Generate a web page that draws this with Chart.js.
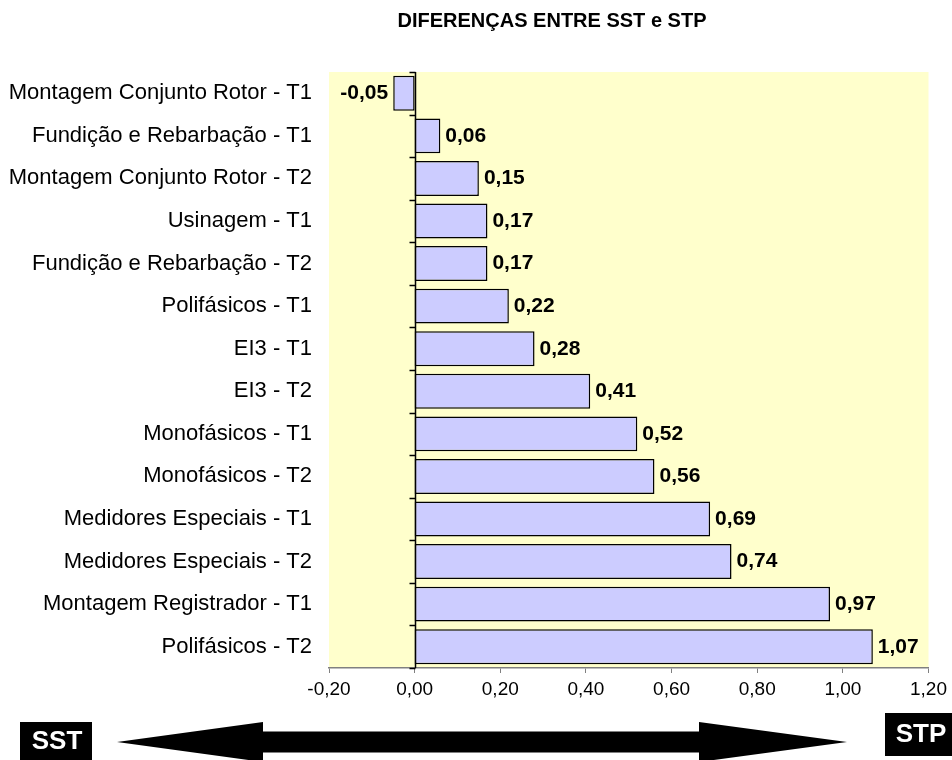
<!DOCTYPE html>
<html>
<head>
<meta charset="utf-8">
<title>Diferenças entre SST e STP</title>
<script src="https://cdn.jsdelivr.net/npm/chart.js@4"></script>
<style>
  html, body { margin: 0; padding: 0; background: #fff; }
  #wrap { width: 952px; height: 760px; }
</style>
</head>
<body>
<div id="wrap"><canvas id="diffChart" width="952" height="760"></canvas></div>
<script>
// Setores / turnos, de cima para baixo
const categories = [
    'Montagem Conjunto Rotor - T1',
    'Fundição e Rebarbação - T1',
    'Montagem Conjunto Rotor - T2',
    'Usinagem - T1',
    'Fundição e Rebarbação - T2',
    'Polifásicos - T1',
    'EI3 - T1',
    'EI3 - T2',
    'Monofásicos - T1',
    'Monofásicos - T2',
    'Medidores Especiais - T1',
    'Medidores Especiais - T2',
    'Montagem Registrador - T1',
    'Polifásicos - T2'
];

// Diferença STP - SST
const differences = [-0.05, 0.06, 0.15, 0.17, 0.17, 0.22, 0.28, 0.41, 0.52, 0.56, 0.69, 0.74, 0.97, 1.07];

// Escala horizontal
const xMin = -0.2;
const xMax = 1.2;
const xStep = 0.2;

const chartTitle = 'DIFERENÇAS ENTRE SST e STP';
const leftTag = 'SST';
const rightTag = 'STP';

const FONT = '"Liberation Sans", Arial, sans-serif';

function fmt(v) {
    if (Math.abs(v) < 1e-9) v = 0;
    return v.toFixed(2).replace('.', ',');
}

// Fundo amarelo da área do gráfico
const plotBackground = {
    id: 'plotBackground',
    beforeDraw(chart) {
        const { ctx, chartArea } = chart;
        ctx.save();
        ctx.fillStyle = '#FFFFCC';
        ctx.fillRect(chartArea.left, chartArea.top, chartArea.right - chartArea.left, chartArea.bottom - chartArea.top);
        ctx.restore();
    }
};

// Eixo vertical no zero com marcas entre categorias
const zeroAxis = {
    id: 'zeroAxis',
    afterDatasetsDraw(chart) {
        const { ctx, chartArea } = chart;
        const x = Math.round(chart.scales.x.getPixelForValue(0)) + 0.5;
        const yScale = chart.scales.y;
        ctx.save();
        ctx.strokeStyle = '#000';
        ctx.lineWidth = 1.5;
        ctx.beginPath();
        ctx.moveTo(x, chartArea.top);
        ctx.lineTo(x, chartArea.bottom);
        for (let i = 0; i <= categories.length; i++) {
            const y = Math.round(yScale.getPixelForValue(i - 0.5)) + 0.5;
            ctx.moveTo(x - 6, y);
            ctx.lineTo(x, y);
        }
        ctx.stroke();
        ctx.restore();
    }
};

// Rótulos com o valor de cada barra
const valueLabels = {
    id: 'valueLabels',
    afterDatasetsDraw(chart) {
        const { ctx } = chart;
        const meta = chart.getDatasetMeta(0);
        ctx.save();
        ctx.font = 'bold 21px ' + FONT;
        ctx.fillStyle = '#000';
        ctx.textBaseline = 'middle';
        meta.data.forEach((bar, i) => {
            const v = differences[i];
            if (v < 0) {
                ctx.textAlign = 'right';
                ctx.fillText(fmt(v), bar.x - 5, bar.y);
            } else {
                ctx.textAlign = 'left';
                ctx.fillText(fmt(v), bar.x + 5, bar.y);
            }
        });
        ctx.restore();
    }
};

// Título, seta e etiquetas SST / STP
const decorations = {
    id: 'decorations',
    afterDraw(chart) {
        const { ctx } = chart;
        ctx.save();
        ctx.fillStyle = '#000';
        ctx.font = 'bold 20px ' + FONT;
        ctx.textAlign = 'center';
        ctx.textBaseline = 'middle';
        ctx.fillText(chartTitle, 552, 21);

        // seta dupla
        const cy = 742;
        ctx.beginPath();
        ctx.moveTo(117, cy);
        ctx.lineTo(263, cy - 20);
        ctx.lineTo(263, cy - 10.5);
        ctx.lineTo(699, cy - 10.5);
        ctx.lineTo(699, cy - 20);
        ctx.lineTo(847, cy);
        ctx.lineTo(699, cy + 20);
        ctx.lineTo(699, cy + 10.5);
        ctx.lineTo(263, cy + 10.5);
        ctx.lineTo(263, cy + 20);
        ctx.closePath();
        ctx.fill();

        ctx.fillRect(20, 722, 72, 40);
        ctx.fillRect(885, 713, 70, 43);
        ctx.fillStyle = '#fff';
        ctx.font = 'bold 26px ' + FONT;
        ctx.fillText(leftTag, 57, 742);
        ctx.fillText(rightTag, 921, 735);
        ctx.restore();
    }
};

const ctx = document.getElementById('diffChart').getContext('2d');

const chart = new Chart(ctx, {
    type: 'bar',
    data: {
        labels: categories,
        datasets: [{
            data: differences,
            backgroundColor: '#CCCCFF',
            borderColor: '#000',
            borderWidth: 1.5,
            borderSkipped: false,
            barPercentage: 0.82,
            categoryPercentage: 1
        }]
    },
    options: {
        indexAxis: 'y',
        responsive: false,
        animation: false,
        layout: {
            padding: { top: 72, right: 23, bottom: 0, left: 0 }
        },
        plugins: {
            legend: { display: false },
            title: { display: false },
            tooltip: { enabled: false }
        },
        scales: {
            x: {
                min: xMin,
                max: xMax,
                grid: {
                    display: true,
                    drawOnChartArea: false,
                    drawTicks: true,
                    tickLength: 5,
                    color: '#808080'
                },
                border: { display: true, color: '#808080', width: 1.5 },
                ticks: {
                    stepSize: xStep,
                    padding: 5,
                    color: '#000',
                    font: { family: FONT, size: 19 },
                    callback: (value) => fmt(value)
                },
                afterFit(scale) {
                    scale.height = 92;
                }
            },
            y: {
                grid: { display: false, drawTicks: false },
                border: { display: false },
                ticks: {
                    padding: 17,
                    color: '#000',
                    font: { family: FONT, size: 22 }
                },
                afterFit(scale) {
                    scale.width = 329;
                }
            }
        }
    },
    plugins: [plotBackground, zeroAxis, valueLabels, decorations]
});
</script>
</body>
</html>
